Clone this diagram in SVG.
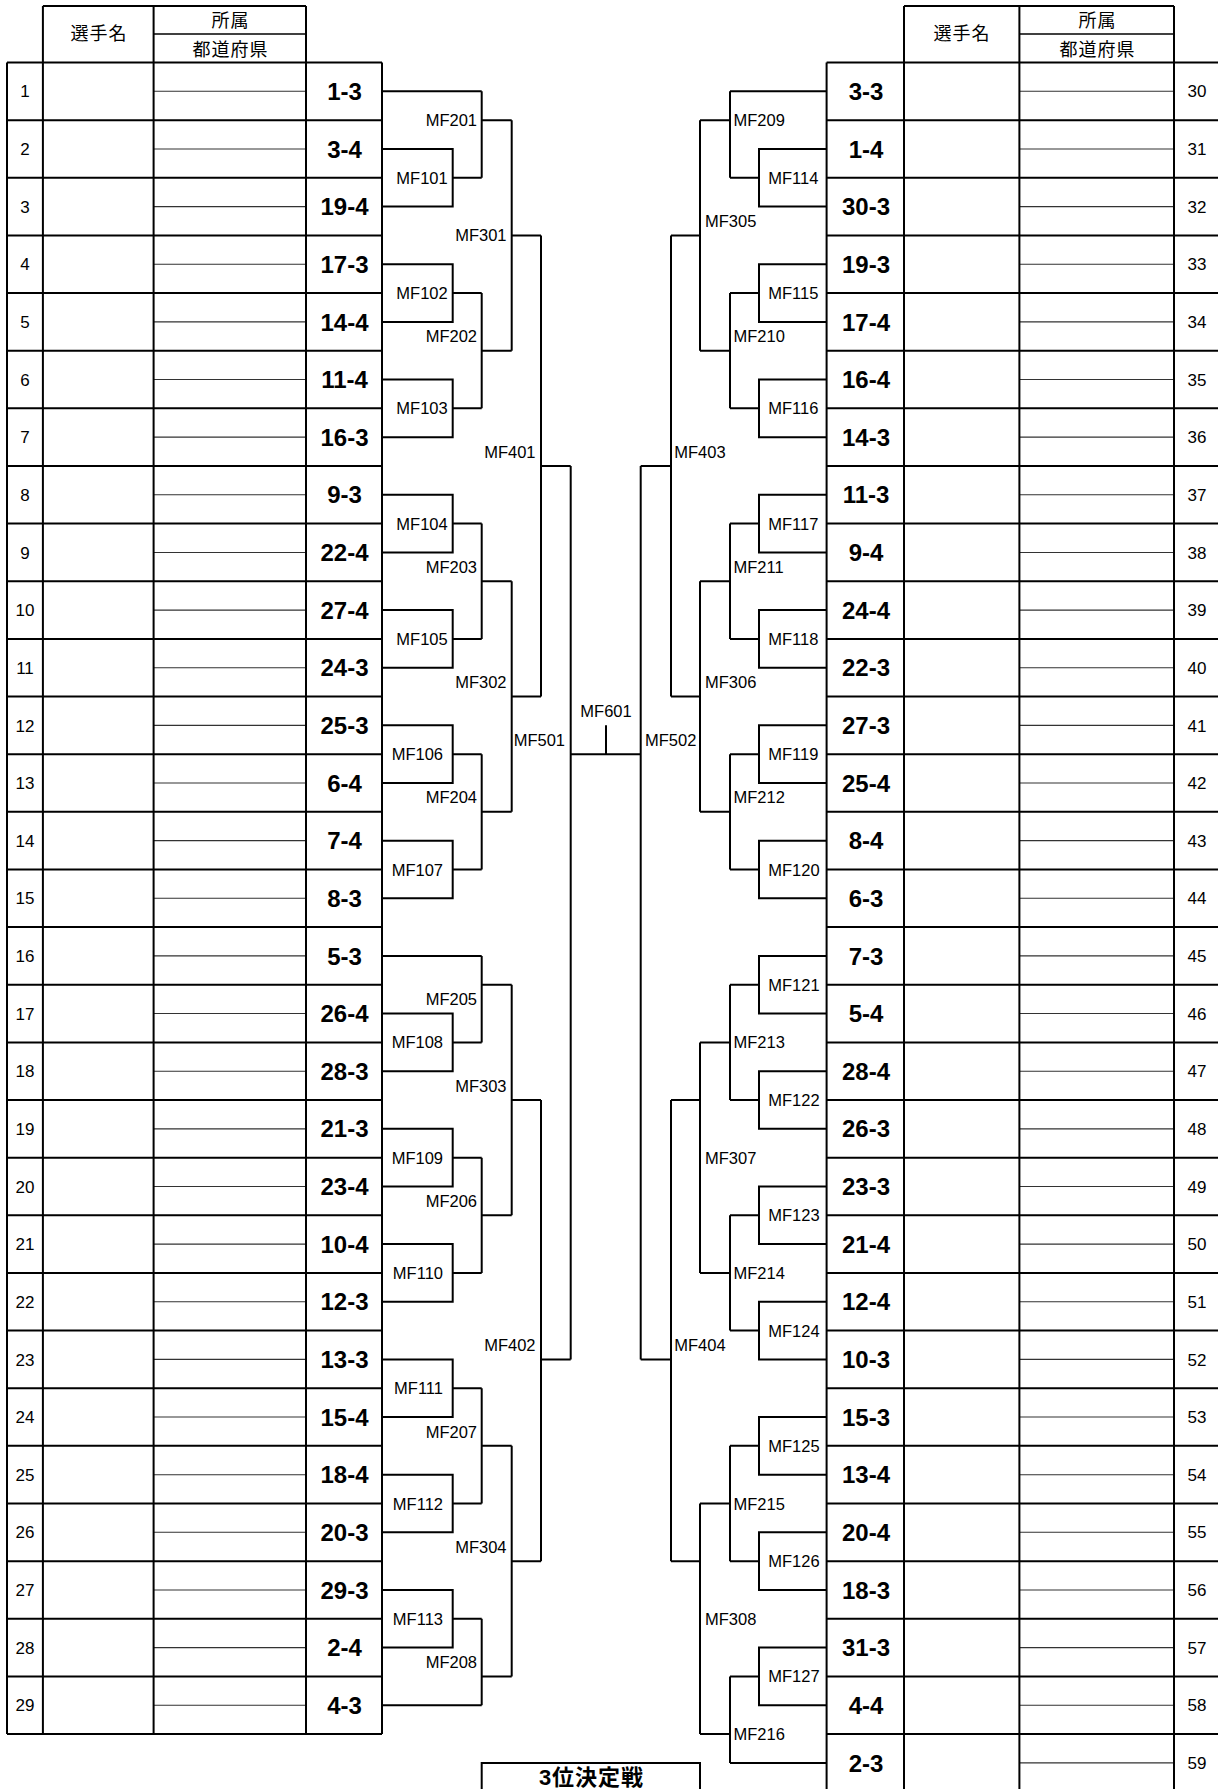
<svg xmlns="http://www.w3.org/2000/svg" width="1218" height="1789" viewBox="0 0 1218 1789">
<style>
.ln{stroke:#000;stroke-width:2;fill:none}
.dv{stroke:#000;stroke-width:1.3;fill:none}
.th{stroke:#333;stroke-width:1.1;fill:none}
.num{font-family:"Liberation Sans",Arial,sans-serif;font-size:17px;text-anchor:middle;fill:#000}
.sc{font-family:"Liberation Sans",Arial,sans-serif;font-size:24px;font-weight:bold;text-anchor:middle;fill:#000}
.ml{font-family:"Liberation Sans",Arial,sans-serif;font-size:16.5px;text-anchor:end;fill:#000}
.mr{font-family:"Liberation Sans",Arial,sans-serif;font-size:16.5px;text-anchor:start;fill:#000}
.mc{font-family:"Liberation Sans",Arial,sans-serif;font-size:16.5px;text-anchor:middle;fill:#000}
.hd{font-family:"Noto Sans CJK JP","Noto Sans CJK SC",sans-serif;font-size:18px;letter-spacing:1px;text-anchor:middle;fill:#000}
.tp{font-family:"Liberation Sans","Noto Sans CJK JP",sans-serif;font-size:22px;font-weight:bold;letter-spacing:1px;text-anchor:middle;fill:#000}
</style>
<rect width="1218" height="1789" fill="#fff"/>
<g id="table-left">
<path class="th" d="M153.6 91.32H306M153.6 148.96H306M153.6 206.6H306M153.6 264.24H306M153.6 321.88H306M153.6 379.52H306M153.6 437.16H306M153.6 494.8H306M153.6 552.44H306M153.6 610.08H306M153.6 667.72H306M153.6 725.36H306M153.6 783H306M153.6 840.64H306M153.6 898.28H306M153.6 955.92H306M153.6 1013.56H306M153.6 1071.2H306M153.6 1128.84H306M153.6 1186.48H306M153.6 1244.12H306M153.6 1301.76H306M153.6 1359.4H306M153.6 1417.04H306M153.6 1474.68H306M153.6 1532.32H306M153.6 1589.96H306M153.6 1647.6H306M153.6 1705.24H306"/>
<path class="ln" d="M7 62.5H382M7 120.14H382M7 177.78H382M7 235.42H382M7 293.06H382M7 350.7H382M7 408.34H382M7 465.98H382M7 523.62H382M7 581.26H382M7 638.9H382M7 696.54H382M7 754.18H382M7 811.82H382M7 869.46H382M7 927.1H382M7 984.74H382M7 1042.38H382M7 1100.02H382M7 1157.66H382M7 1215.3H382M7 1272.94H382M7 1330.58H382M7 1388.22H382M7 1445.86H382M7 1503.5H382M7 1561.14H382M7 1618.78H382M7 1676.42H382M7 1734.06H382M7 62.5V1734.06M42.9 6V1734.06M153.6 6V1734.06M306 6V1734.06M382 62.5V1734.06M42.9 6H306"/>
<path class="dv" d="M153.6 34H306"/>
</g>
<g id="table-right">
<path class="th" d="M1019.4 91.32H1174M1019.4 148.96H1174M1019.4 206.6H1174M1019.4 264.24H1174M1019.4 321.88H1174M1019.4 379.52H1174M1019.4 437.16H1174M1019.4 494.8H1174M1019.4 552.44H1174M1019.4 610.08H1174M1019.4 667.72H1174M1019.4 725.36H1174M1019.4 783H1174M1019.4 840.64H1174M1019.4 898.28H1174M1019.4 955.92H1174M1019.4 1013.56H1174M1019.4 1071.2H1174M1019.4 1128.84H1174M1019.4 1186.48H1174M1019.4 1244.12H1174M1019.4 1301.76H1174M1019.4 1359.4H1174M1019.4 1417.04H1174M1019.4 1474.68H1174M1019.4 1532.32H1174M1019.4 1589.96H1174M1019.4 1647.6H1174M1019.4 1705.24H1174M1019.4 1762.88H1174"/>
<path class="ln" d="M826.6 62.5H1218M826.6 120.14H1218M826.6 177.78H1218M826.6 235.42H1218M826.6 293.06H1218M826.6 350.7H1218M826.6 408.34H1218M826.6 465.98H1218M826.6 523.62H1218M826.6 581.26H1218M826.6 638.9H1218M826.6 696.54H1218M826.6 754.18H1218M826.6 811.82H1218M826.6 869.46H1218M826.6 927.1H1218M826.6 984.74H1218M826.6 1042.38H1218M826.6 1100.02H1218M826.6 1157.66H1218M826.6 1215.3H1218M826.6 1272.94H1218M826.6 1330.58H1218M826.6 1388.22H1218M826.6 1445.86H1218M826.6 1503.5H1218M826.6 1561.14H1218M826.6 1618.78H1218M826.6 1676.42H1218M826.6 1734.06H1218M826.6 62.5V1789M904 6V1789M1019.4 6V1789M1174 6V1789M904 6H1174"/>
<path class="dv" d="M1019.4 34H1174"/>
</g>
<g id="header-left">
<text class="hd" x="99" y="39.5">選手名</text>
<text class="hd" x="230.5" y="27">所属</text>
<text class="hd" x="230.5" y="55.5">都道府県</text>
</g>
<g id="header-right">
<text class="hd" x="962" y="39.5">選手名</text>
<text class="hd" x="1097.5" y="27">所属</text>
<text class="hd" x="1097.5" y="55.5">都道府県</text>
</g>
<g id="connectors">
<path class="ln" d="M382 148.96H452.7V206.6H382M452.7 177.78H481.7M382 264.24H452.7V321.88H382M452.7 293.06H481.7M382 379.52H452.7V437.16H382M452.7 408.34H481.7M382 494.8H452.7V552.44H382M452.7 523.62H481.7M382 610.08H452.7V667.72H382M452.7 638.9H481.7M382 725.36H452.7V783H382M452.7 754.18H481.7M382 840.64H452.7V898.28H382M452.7 869.46H481.7M382 1013.56H452.7V1071.2H382M452.7 1042.38H481.7M382 1128.84H452.7V1186.48H382M452.7 1157.66H481.7M382 1244.12H452.7V1301.76H382M452.7 1272.94H481.7M382 1359.4H452.7V1417.04H382M452.7 1388.22H481.7M382 1474.68H452.7V1532.32H382M452.7 1503.5H481.7M382 1589.96H452.7V1647.6H382M452.7 1618.78H481.7"/>
<path class="ln" d="M382 91.32H481.7M382 955.92H481.7M382 1705.24H481.7"/>
<path class="ln" d="M481.7 91.32V177.78M481.7 120.14H511.7M481.7 293.06V408.34M481.7 350.7H511.7M481.7 523.62V638.9M481.7 581.26H511.7M481.7 754.18V869.46M481.7 811.82H511.7M481.7 955.92V1042.38M481.7 984.74H511.7M481.7 1157.66V1272.94M481.7 1215.3H511.7M481.7 1388.22V1503.5M481.7 1445.86H511.7M481.7 1618.78V1705.24M481.7 1676.42H511.7"/>
<path class="ln" d="M511.7 120.14V350.7M511.7 235.42H541M511.7 581.26V811.82M511.7 696.54H541M511.7 984.74V1215.3M511.7 1100.02H541M511.7 1445.86V1676.42M511.7 1561.14H541"/>
<path class="ln" d="M541 235.42V696.54M541 465.98H570.7M541 1100.02V1561.14M541 1359.4H570.7"/>
<path class="ln" d="M570.7 465.98V1359.4M570.7 754.18H640.7M606 725.36V754.18M640.7 465.98V1359.4"/>
<path class="ln" d="M671 235.42V696.54M671 465.98H640.7M671 1100.02V1561.14M671 1359.4H640.7"/>
<path class="ln" d="M700 120.14V350.7M700 235.42H671M700 581.26V811.82M700 696.54H671M700 1042.38V1272.94M700 1100.02H671M700 1503.5V1734.06M700 1561.14H671"/>
<path class="ln" d="M730 91.32V177.78M730 120.14H700M730 293.06V408.34M730 350.7H700M730 523.62V638.9M730 581.26H700M730 754.18V869.46M730 811.82H700M730 984.74V1100.02M730 1042.38H700M730 1215.3V1330.58M730 1272.94H700M730 1445.86V1561.14M730 1503.5H700M730 1676.42V1762.88M730 1734.06H700"/>
<path class="ln" d="M826.6 91.32H730M826.6 1762.88H730"/>
<path class="ln" d="M826.6 148.96H759V206.6H826.6M759 177.78H730M826.6 264.24H759V321.88H826.6M759 293.06H730M826.6 379.52H759V437.16H826.6M759 408.34H730M826.6 494.8H759V552.44H826.6M759 523.62H730M826.6 610.08H759V667.72H826.6M759 638.9H730M826.6 725.36H759V783H826.6M759 754.18H730M826.6 840.64H759V898.28H826.6M759 869.46H730M826.6 955.92H759V1013.56H826.6M759 984.74H730M826.6 1071.2H759V1128.84H826.6M759 1100.02H730M826.6 1186.48H759V1244.12H826.6M759 1215.3H730M826.6 1301.76H759V1359.4H826.6M759 1330.58H730M826.6 1417.04H759V1474.68H826.6M759 1445.86H730M826.6 1532.32H759V1589.96H826.6M759 1561.14H730M826.6 1647.6H759V1705.24H826.6M759 1676.42H730"/>
</g>
<g id="players-left">
<g id="p1"><text class="num" x="25" y="97.4">1</text><text class="sc" x="344.5" y="99.9">1-3</text></g>
<g id="p2"><text class="num" x="25" y="155.1">2</text><text class="sc" x="344.5" y="157.6">3-4</text></g>
<g id="p3"><text class="num" x="25" y="212.7">3</text><text class="sc" x="344.5" y="215.2">19-4</text></g>
<g id="p4"><text class="num" x="25" y="270.3">4</text><text class="sc" x="344.5" y="272.8">17-3</text></g>
<g id="p5"><text class="num" x="25" y="328">5</text><text class="sc" x="344.5" y="330.5">14-4</text></g>
<g id="p6"><text class="num" x="25" y="385.6">6</text><text class="sc" x="344.5" y="388.1">11-4</text></g>
<g id="p7"><text class="num" x="25" y="443.3">7</text><text class="sc" x="344.5" y="445.8">16-3</text></g>
<g id="p8"><text class="num" x="25" y="500.9">8</text><text class="sc" x="344.5" y="503.4">9-3</text></g>
<g id="p9"><text class="num" x="25" y="558.5">9</text><text class="sc" x="344.5" y="561">22-4</text></g>
<g id="p10"><text class="num" x="25" y="616.2">10</text><text class="sc" x="344.5" y="618.7">27-4</text></g>
<g id="p11"><text class="num" x="25" y="673.8">11</text><text class="sc" x="344.5" y="676.3">24-3</text></g>
<g id="p12"><text class="num" x="25" y="731.5">12</text><text class="sc" x="344.5" y="734">25-3</text></g>
<g id="p13"><text class="num" x="25" y="789.1">13</text><text class="sc" x="344.5" y="791.6">6-4</text></g>
<g id="p14"><text class="num" x="25" y="846.7">14</text><text class="sc" x="344.5" y="849.2">7-4</text></g>
<g id="p15"><text class="num" x="25" y="904.4">15</text><text class="sc" x="344.5" y="906.9">8-3</text></g>
<g id="p16"><text class="num" x="25" y="962">16</text><text class="sc" x="344.5" y="964.5">5-3</text></g>
<g id="p17"><text class="num" x="25" y="1019.7">17</text><text class="sc" x="344.5" y="1022.2">26-4</text></g>
<g id="p18"><text class="num" x="25" y="1077.3">18</text><text class="sc" x="344.5" y="1079.8">28-3</text></g>
<g id="p19"><text class="num" x="25" y="1134.9">19</text><text class="sc" x="344.5" y="1137.4">21-3</text></g>
<g id="p20"><text class="num" x="25" y="1192.6">20</text><text class="sc" x="344.5" y="1195.1">23-4</text></g>
<g id="p21"><text class="num" x="25" y="1250.2">21</text><text class="sc" x="344.5" y="1252.7">10-4</text></g>
<g id="p22"><text class="num" x="25" y="1307.9">22</text><text class="sc" x="344.5" y="1310.4">12-3</text></g>
<g id="p23"><text class="num" x="25" y="1365.5">23</text><text class="sc" x="344.5" y="1368">13-3</text></g>
<g id="p24"><text class="num" x="25" y="1423.1">24</text><text class="sc" x="344.5" y="1425.6">15-4</text></g>
<g id="p25"><text class="num" x="25" y="1480.8">25</text><text class="sc" x="344.5" y="1483.3">18-4</text></g>
<g id="p26"><text class="num" x="25" y="1538.4">26</text><text class="sc" x="344.5" y="1540.9">20-3</text></g>
<g id="p27"><text class="num" x="25" y="1596.1">27</text><text class="sc" x="344.5" y="1598.6">29-3</text></g>
<g id="p28"><text class="num" x="25" y="1653.7">28</text><text class="sc" x="344.5" y="1656.2">2-4</text></g>
<g id="p29"><text class="num" x="25" y="1711.3">29</text><text class="sc" x="344.5" y="1713.8">4-3</text></g>
</g>
<g id="players-right">
<g id="p30"><text class="num" x="1197" y="97.4">30</text><text class="sc" x="866" y="99.9">3-3</text></g>
<g id="p31"><text class="num" x="1197" y="155.1">31</text><text class="sc" x="866" y="157.6">1-4</text></g>
<g id="p32"><text class="num" x="1197" y="212.7">32</text><text class="sc" x="866" y="215.2">30-3</text></g>
<g id="p33"><text class="num" x="1197" y="270.3">33</text><text class="sc" x="866" y="272.8">19-3</text></g>
<g id="p34"><text class="num" x="1197" y="328">34</text><text class="sc" x="866" y="330.5">17-4</text></g>
<g id="p35"><text class="num" x="1197" y="385.6">35</text><text class="sc" x="866" y="388.1">16-4</text></g>
<g id="p36"><text class="num" x="1197" y="443.3">36</text><text class="sc" x="866" y="445.8">14-3</text></g>
<g id="p37"><text class="num" x="1197" y="500.9">37</text><text class="sc" x="866" y="503.4">11-3</text></g>
<g id="p38"><text class="num" x="1197" y="558.5">38</text><text class="sc" x="866" y="561">9-4</text></g>
<g id="p39"><text class="num" x="1197" y="616.2">39</text><text class="sc" x="866" y="618.7">24-4</text></g>
<g id="p40"><text class="num" x="1197" y="673.8">40</text><text class="sc" x="866" y="676.3">22-3</text></g>
<g id="p41"><text class="num" x="1197" y="731.5">41</text><text class="sc" x="866" y="734">27-3</text></g>
<g id="p42"><text class="num" x="1197" y="789.1">42</text><text class="sc" x="866" y="791.6">25-4</text></g>
<g id="p43"><text class="num" x="1197" y="846.7">43</text><text class="sc" x="866" y="849.2">8-4</text></g>
<g id="p44"><text class="num" x="1197" y="904.4">44</text><text class="sc" x="866" y="906.9">6-3</text></g>
<g id="p45"><text class="num" x="1197" y="962">45</text><text class="sc" x="866" y="964.5">7-3</text></g>
<g id="p46"><text class="num" x="1197" y="1019.7">46</text><text class="sc" x="866" y="1022.2">5-4</text></g>
<g id="p47"><text class="num" x="1197" y="1077.3">47</text><text class="sc" x="866" y="1079.8">28-4</text></g>
<g id="p48"><text class="num" x="1197" y="1134.9">48</text><text class="sc" x="866" y="1137.4">26-3</text></g>
<g id="p49"><text class="num" x="1197" y="1192.6">49</text><text class="sc" x="866" y="1195.1">23-3</text></g>
<g id="p50"><text class="num" x="1197" y="1250.2">50</text><text class="sc" x="866" y="1252.7">21-4</text></g>
<g id="p51"><text class="num" x="1197" y="1307.9">51</text><text class="sc" x="866" y="1310.4">12-4</text></g>
<g id="p52"><text class="num" x="1197" y="1365.5">52</text><text class="sc" x="866" y="1368">10-3</text></g>
<g id="p53"><text class="num" x="1197" y="1423.1">53</text><text class="sc" x="866" y="1425.6">15-3</text></g>
<g id="p54"><text class="num" x="1197" y="1480.8">54</text><text class="sc" x="866" y="1483.3">13-4</text></g>
<g id="p55"><text class="num" x="1197" y="1538.4">55</text><text class="sc" x="866" y="1540.9">20-4</text></g>
<g id="p56"><text class="num" x="1197" y="1596.1">56</text><text class="sc" x="866" y="1598.6">18-3</text></g>
<g id="p57"><text class="num" x="1197" y="1653.7">57</text><text class="sc" x="866" y="1656.2">31-3</text></g>
<g id="p58"><text class="num" x="1197" y="1711.3">58</text><text class="sc" x="866" y="1713.8">4-4</text></g>
<g id="p59"><text class="num" x="1197" y="1769">59</text><text class="sc" x="866" y="1771.5">2-3</text></g>
</g>
<g id="matches-left">
<g id="MF101"><text class="ml" x="447.7" y="183.8">MF101</text></g>
<g id="MF102"><text class="ml" x="447.7" y="299.1">MF102</text></g>
<g id="MF103"><text class="ml" x="447.7" y="414.3">MF103</text></g>
<g id="MF104"><text class="ml" x="447.7" y="529.6">MF104</text></g>
<g id="MF105"><text class="ml" x="447.7" y="644.9">MF105</text></g>
<g id="MF106"><text class="ml" x="443" y="760.2">MF106</text></g>
<g id="MF107"><text class="ml" x="443" y="875.5">MF107</text></g>
<g id="MF108"><text class="ml" x="443" y="1048.4">MF108</text></g>
<g id="MF109"><text class="ml" x="443" y="1163.7">MF109</text></g>
<g id="MF110"><text class="ml" x="443" y="1278.9">MF110</text></g>
<g id="MF111"><text class="ml" x="443" y="1394.2">MF111</text></g>
<g id="MF112"><text class="ml" x="443" y="1509.5">MF112</text></g>
<g id="MF113"><text class="ml" x="443" y="1624.8">MF113</text></g>
<g id="MF201"><text class="ml" x="477" y="126.1">MF201</text></g>
<g id="MF202"><text class="ml" x="477" y="342.3">MF202</text></g>
<g id="MF203"><text class="ml" x="477" y="572.9">MF203</text></g>
<g id="MF204"><text class="ml" x="477" y="803.4">MF204</text></g>
<g id="MF205"><text class="ml" x="477" y="1005.2">MF205</text></g>
<g id="MF206"><text class="ml" x="477" y="1206.9">MF206</text></g>
<g id="MF207"><text class="ml" x="477" y="1437.5">MF207</text></g>
<g id="MF208"><text class="ml" x="477" y="1668">MF208</text></g>
<g id="MF301"><text class="ml" x="506.5" y="241.4">MF301</text></g>
<g id="MF302"><text class="ml" x="506.5" y="688.1">MF302</text></g>
<g id="MF303"><text class="ml" x="506.5" y="1091.6">MF303</text></g>
<g id="MF304"><text class="ml" x="506.5" y="1552.7">MF304</text></g>
<g id="MF401"><text class="ml" x="535.5" y="457.6">MF401</text></g>
<g id="MF402"><text class="ml" x="535.5" y="1351">MF402</text></g>
<g id="MF501"><text class="ml" x="565" y="745.8">MF501</text></g>
</g>
<g id="MF601"><text class="mc" x="606" y="717">MF601</text></g>
<g id="matches-right">
<g id="MF502"><text class="mr" x="645" y="745.8">MF502</text></g>
<g id="MF403"><text class="mr" x="674.3" y="457.6">MF403</text></g>
<g id="MF404"><text class="mr" x="674.3" y="1351">MF404</text></g>
<g id="MF305"><text class="mr" x="705" y="227">MF305</text></g>
<g id="MF306"><text class="mr" x="705" y="688.1">MF306</text></g>
<g id="MF307"><text class="mr" x="705" y="1163.7">MF307</text></g>
<g id="MF308"><text class="mr" x="705" y="1624.8">MF308</text></g>
<g id="MF209"><text class="mr" x="733.5" y="126.1">MF209</text></g>
<g id="MF210"><text class="mr" x="733.5" y="342.3">MF210</text></g>
<g id="MF211"><text class="mr" x="733.5" y="572.9">MF211</text></g>
<g id="MF212"><text class="mr" x="733.5" y="803.4">MF212</text></g>
<g id="MF213"><text class="mr" x="733.5" y="1048.4">MF213</text></g>
<g id="MF214"><text class="mr" x="733.5" y="1278.9">MF214</text></g>
<g id="MF215"><text class="mr" x="733.5" y="1509.5">MF215</text></g>
<g id="MF216"><text class="mr" x="733.5" y="1740.1">MF216</text></g>
<g id="MF114"><text class="mr" x="768.3" y="183.8">MF114</text></g>
<g id="MF115"><text class="mr" x="768.3" y="299.1">MF115</text></g>
<g id="MF116"><text class="mr" x="768.3" y="414.3">MF116</text></g>
<g id="MF117"><text class="mr" x="768.3" y="529.6">MF117</text></g>
<g id="MF118"><text class="mr" x="768.3" y="644.9">MF118</text></g>
<g id="MF119"><text class="mr" x="768.3" y="760.2">MF119</text></g>
<g id="MF120"><text class="mr" x="768.3" y="875.5">MF120</text></g>
<g id="MF121"><text class="mr" x="768.3" y="990.7">MF121</text></g>
<g id="MF122"><text class="mr" x="768.3" y="1106">MF122</text></g>
<g id="MF123"><text class="mr" x="768.3" y="1221.3">MF123</text></g>
<g id="MF124"><text class="mr" x="768.3" y="1336.6">MF124</text></g>
<g id="MF125"><text class="mr" x="768.3" y="1451.9">MF125</text></g>
<g id="MF126"><text class="mr" x="768.3" y="1567.1">MF126</text></g>
<g id="MF127"><text class="mr" x="768.3" y="1682.4">MF127</text></g>
</g>
<g id="third-place">
<path class="ln" d="M481.7 1800V1762.88H700V1800"/>
<text class="tp" x="591.5" y="1785">3位決定戦</text>
</g>
</svg>
